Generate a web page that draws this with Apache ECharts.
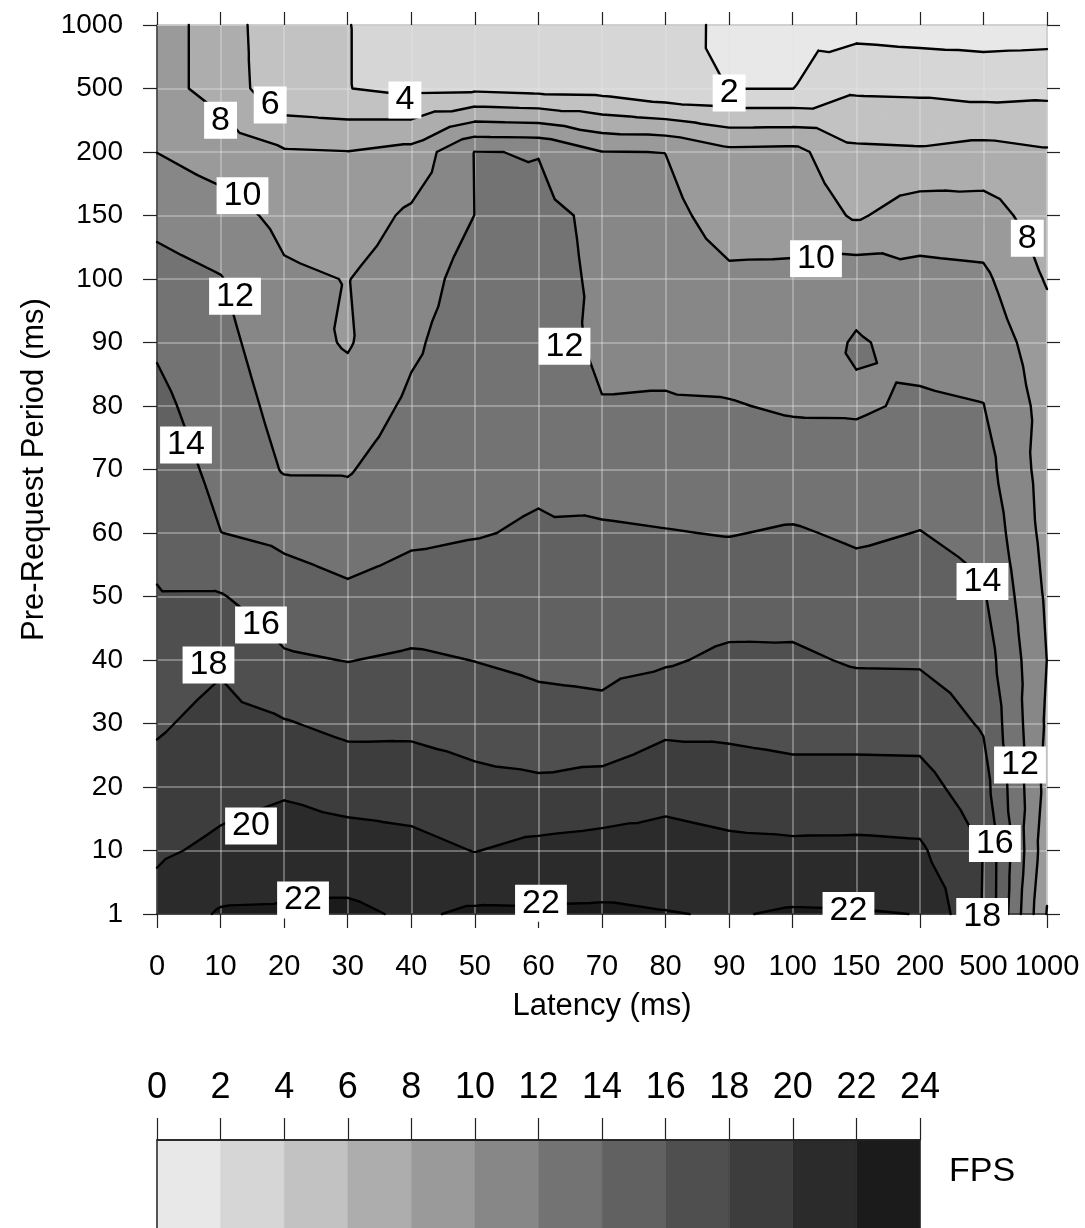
<!DOCTYPE html>
<html>
<head>
<meta charset="utf-8">
<script src="https://cdn.jsdelivr.net/npm/echarts/dist/echarts.min.js"></script>
<style>
html,body{margin:0;padding:0;background:#fff;}
#chart{width:1085px;height:1228px;}
</style>
</head>
<body>
<div id="chart"></div>
<script>
// ---------- data ----------
const latencyLabels = ['0','10','20','30','40','50','60','70','80','90','100','150','200','500','1000'];
const periodLabels  = ['1','10','20','30','40','50','60','70','80','90','100','150','200','500','1000'];

// FPS per pre-request period (rows), one value per latency column
const fps_p1    = [20.75, 22.2, 22.25, 22.39, 21.72, 22.3, 22.25, 22.3, 22.08, 21.87, 22.2, 22.14, 21.97, 17.9, 7.9];
const fps_p10   = [19.72, 20.39, 21.02, 20.86, 20.55, 19.95, 20.49, 20.7, 20.79, 20.47, 20.39, 20.4, 20.28, 17.96, 8.7];
const fps_p20   = [18.71, 19.4, 19.73, 19.22, 19.12, 18.53, 18.36, 18.71, 19.32, 18.96, 18.67, 18.79, 18.75, 16.83, 9.3];
const fps_p30   = [17.76, 18.64, 18.14, 17.52, 17.56, 17.22, 16.73, 16.53, 17.54, 17.55, 17.36, 17.25, 17.21, 15.79, 9.7];
const fps_p40   = [16.94, 17.74, 16.24, 15.95, 16.27, 15.97, 15.62, 15.51, 15.8, 16.34, 16.3, 15.82, 15.79, 15.0, 9.98];
const fps_p50   = [16.11, 16.12, 14.94, 14.36, 14.81, 14.86, 14.9, 14.86, 14.93, 15.13, 15.24, 14.78, 14.92, 14.21, 9.7];
const fps_p60   = [15.53, 14.02, 13.55, 13.06, 13.69, 13.91, 14.17, 14.21, 14.07, 13.93, 14.17, 13.75, 14.04, 13.47, 9.3];
const fps_p70   = [14.98, 13.52, 11.87, 11.86, 13.03, 13.53, 13.73, 13.22, 13.11, 13.01, 12.94, 12.75, 13.14, 12.76, 9.1];
const fps_p80   = [14.44, 13.05, 11.35, 10.85, 12.36, 13.15, 13.37, 12.09, 12.14, 12.1, 11.81, 11.8, 12.23, 12.04, 9.3];
const fps_p90   = [13.79, 12.57, 10.83, 9.83, 11.68, 13.1, 13.01, 11.6, 11.56, 11.2, 11.06, 12.15, 11.5, 11.22, 8.9];
const fps_p100  = [12.71, 12.09, 10.31, 9.95, 11.0, 12.9, 12.65, 11.7, 11.04, 10.3, 10.32, 11.37, 10.53, 10.38, 7.83];
const fps_p150  = [11.49, 10.8, 9.48, 9.0, 10.33, 12.02, 12.5, 11.6, 10.52, 9.26, 9.35, 7.74, 9.08, 8.89, 7.01];
const fps_p200  = [9.98, 9.09, 8.2, 8.05, 8.63, 12.05, 11.94, 10.05, 9.98, 8.5, 8.6, 6.36, 6.24, 6.62, 6.19];
const fps_p500  = [8.6, 7.4, 4.4, 4.04, 3.5, 3.6, 3.3, 3.2, 2.3, 1.98, 1.98, 3.7, 3.62, 3.3, 3.47];
const fps_p1000 = [8.6, 7.4, 4.1, 4.04, 3.3, 3.2, 3.0, 2.9, 2.7, 1.6, 1.5, 1.3, 1.08, 1.04, 1.1];

const fpsGrid = [fps_p1, fps_p10, fps_p20, fps_p30, fps_p40, fps_p50, fps_p60, fps_p70,
                 fps_p80, fps_p90, fps_p100, fps_p150, fps_p200, fps_p500, fps_p1000];

const bandEdges = [0,2,4,6,8,10,12,14,16,18,20,22,24];
const contourLevels = [2,4,6,8,10,12,14,16,18,20,22];
const bandColors = ['#e8e8e8','#d6d6d6','#c2c2c2','#adadad','#9a9a9a','#878787',
                    '#737373','#616161','#4f4f4f','#3d3d3d','#2b2b2b','#1b1b1b'];

// contour label annotations: [latency index, period index, text]
const contourLabelSpots = [
  [9.0, 12.93, '2'], [3.9, 12.82, '4'], [1.78, 12.74, '6'], [1.0, 12.5, '8'],
  [1.345, 11.31, '10'], [1.227, 9.73, '12'], [0.456, 7.386, '14'], [1.636, 4.55, '16'],
  [0.81, 3.92, '18'], [1.479, 1.386, '20'], [2.297, 0.22, '22'],
  [6.41, 8.94, '12'], [6.04, 0.17, '22'], [10.366, 10.32, '10'], [13.69, 10.64, '8'],
  [12.985, 5.236, '14'], [13.575, 2.346, '12'], [13.18, 1.11, '16'], [10.877, 0.055, '22'],
  [12.98, -0.04, '18']
];

// ---------- contouring (triangulated linear interpolation) ----------
function lerp(p, q, L) {
  const t = (L - p[2]) / (q[2] - p[2]);
  return [p[0] + t * (q[0] - p[0]), p[1] + t * (q[1] - p[1]), L];
}
function clip(poly, L, keepAbove) {
  const out = [];
  const n = poly.length;
  for (let k = 0; k < n; k++) {
    const p = poly[k], q = poly[(k + 1) % n];
    const pin = keepAbove ? p[2] >= L : p[2] <= L;
    const qin = keepAbove ? q[2] >= L : q[2] <= L;
    if (pin) out.push(p);
    if (pin !== qin) out.push(lerp(p, q, L));
  }
  return out;
}
const bandPolys = bandColors.map(() => []);
const levelSegs = contourLevels.map(() => []);
const nx = latencyLabels.length, ny = periodLabels.length;
for (let j = 0; j < ny - 1; j++) {
  for (let i = 0; i < nx - 1; i++) {
    const a = [i, j, fpsGrid[j][i]];
    const b = [i + 1, j, fpsGrid[j][i + 1]];
    const c = [i + 1, j + 1, fpsGrid[j + 1][i + 1]];
    const d = [i, j + 1, fpsGrid[j + 1][i]];
    const m = [i + 0.5, j + 0.5, (a[2] + b[2] + c[2] + d[2]) / 4];
    const tris = [[a, b, m], [b, c, m], [c, d, m], [d, a, m]];
    tris.forEach(tri => {
      for (let k = 0; k < bandColors.length; k++) {
        let poly = tri;
        if (k > 0) poly = clip(poly, bandEdges[k], true);
        if (poly.length >= 3 && k < bandColors.length - 1) poly = clip(poly, bandEdges[k + 1], false);
        if (poly.length >= 3) bandPolys[k].push(poly);
      }
      contourLevels.forEach((L, li) => {
        const pts = [];
        for (let e = 0; e < 3; e++) {
          const p = tri[e], q = tri[(e + 1) % 3];
          if ((p[2] >= L) !== (q[2] >= L)) pts.push(lerp(p, q, L));
        }
        if (pts.length === 2) levelSegs[li].push([pts[0], pts[1]]);
      });
    });
  }
}

// ---------- chart ----------
const FONT = "'Liberation Sans', Arial, Helvetica, sans-serif";
const chart = echarts.init(document.getElementById('chart'));

const f = v => v.toFixed(2);

const option = {
  animation: false,
  backgroundColor: '#ffffff',
  grid: [
    { left: 157, right: 38, top: 25, bottom: 314, containLabel: false, outerBoundsMode: 'none' },
    { left: 157, width: 763, top: 1140, height: 120, containLabel: false, outerBoundsMode: 'none' }
  ],
  xAxis: [
    {
      type: 'value', gridIndex: 0, min: 0, max: 14, interval: 1, position: 'bottom', z: 2,
      axisLine: { show: true, onZero: false, lineStyle: { color: '#222', width: 1.5 } },
      axisTick: { show: true, inside: false, length: 14, lineStyle: { color: '#222', width: 1.2 } },
      axisLabel: { margin: 38, fontSize: 29, fontFamily: FONT, color: '#000',
                   showMinLabel: true, showMaxLabel: true, hideOverlap: false,
                   formatter: v => latencyLabels[v] !== undefined ? latencyLabels[v] : '' },
      splitLine: { show: true, lineStyle: { color: 'rgba(230,230,230,0.48)', width: 1.5 } },
      name: 'Latency (ms)', nameLocation: 'middle', nameGap: 77, nameMoveOverlap: false,
      nameTextStyle: { fontSize: 31, fontFamily: FONT, color: '#000' }
    },
    {
      type: 'value', gridIndex: 0, min: 0, max: 14, interval: 1, position: 'top', z: 2,
      axisLine: { show: true, onZero: false, lineStyle: { color: '#c8c8c8', width: 1.5 } },
      axisTick: { show: true, inside: false, length: 13, lineStyle: { color: '#222', width: 1.2 } },
      axisLabel: { show: false }, splitLine: { show: false }
    },
    {
      type: 'value', gridIndex: 1, min: 0, max: 24, interval: 2, position: 'top', z: 2,
      axisLine: { show: true, onZero: false, lineStyle: { color: '#222', width: 1.5 } },
      axisTick: { show: true, inside: false, length: 22, lineStyle: { color: '#222', width: 1.2 } },
      axisLabel: { margin: 34, fontSize: 36, fontFamily: FONT, color: '#000',
                   showMinLabel: true, showMaxLabel: true, hideOverlap: false },
      splitLine: { show: false }
    }
  ],
  yAxis: [
    {
      type: 'value', gridIndex: 0, min: 0, max: 14, interval: 1, position: 'left', z: 2,
      axisLine: { show: true, onZero: false, lineStyle: { color: '#333', width: 1.5 } },
      axisTick: { show: true, inside: false, length: 14, lineStyle: { color: '#222', width: 1.2 } },
      axisLabel: { margin: 34, fontSize: 28, fontFamily: FONT, color: '#000',
                   showMinLabel: true, showMaxLabel: true, hideOverlap: false,
                   formatter: v => periodLabels[v] !== undefined ? periodLabels[v] : '' },
      splitLine: { show: true, lineStyle: { color: 'rgba(230,230,230,0.48)', width: 1.5 } },
      name: 'Pre-Request Period (ms)', nameLocation: 'middle', nameRotate: 90, nameGap: 107,
      nameMoveOverlap: false,
      nameTextStyle: { fontSize: 31, fontFamily: FONT, color: '#000' }
    },
    {
      type: 'value', gridIndex: 0, min: 0, max: 14, interval: 1, position: 'right', z: 2,
      axisLine: { show: true, onZero: false, lineStyle: { color: '#c8c8c8', width: 1.5 } },
      axisTick: { show: true, inside: false, length: 13, lineStyle: { color: '#222', width: 1.2 } },
      axisLabel: { show: false }, splitLine: { show: false }
    },
    {
      type: 'value', gridIndex: 1, min: 0, max: 1, show: false
    }
  ],
  graphic: [
    { type: 'text', left: 949, top: 1155, style: { text: 'FPS', fontSize: 34, fontFamily: FONT, fill: '#000' } }
  ],
  series: [
    {
      // filled contour bands: one compound path per band
      type: 'custom', name: 'fill', xAxisIndex: 0, yAxisIndex: 0, z: 1, silent: true,
      data: bandColors.map((c, k) => [0, 0, k]),
      encode: { x: 0, y: 1 },
      renderItem: (params, api) => {
        const k = api.value(2);
        let d = '';
        bandPolys[k].forEach(poly => {
          poly.forEach((p, n) => {
            const c = api.coord([p[0], p[1]]);
            d += (n === 0 ? 'M' : 'L') + f(c[0]) + ' ' + f(c[1]);
          });
          d += 'Z';
        });
        if (!d) return null;
        return { type: 'path', shape: { pathData: d },
                 style: { fill: bandColors[k], stroke: bandColors[k], lineWidth: 0.6 } };
      }
    },
    {
      // contour lines: one path per level
      type: 'custom', name: 'contours', xAxisIndex: 0, yAxisIndex: 0, z: 3, silent: true,
      data: contourLevels.map((L, li) => [0, 0, li]),
      encode: { x: 0, y: 1 },
      renderItem: (params, api) => {
        const li = api.value(2);
        let d = '';
        levelSegs[li].forEach(s => {
          const a = api.coord([s[0][0], s[0][1]]);
          const b = api.coord([s[1][0], s[1][1]]);
          d += 'M' + f(a[0]) + ' ' + f(a[1]) + 'L' + f(b[0]) + ' ' + f(b[1]);
        });
        if (!d) return null;
        return { type: 'path', shape: { pathData: d },
                 style: { fill: 'none', stroke: '#000', lineWidth: 2.4, lineCap: 'round', lineJoin: 'round' } };
      }
    },
    {
      // contour labels in white boxes
      type: 'custom', name: 'labels', xAxisIndex: 0, yAxisIndex: 0, z: 4, silent: true,
      data: contourLabelSpots.map(s => [s[0], s[1]]),
      encode: { x: 0, y: 1 },
      renderItem: (params, api) => {
        const c = api.coord([api.value(0), api.value(1)]);
        return {
          type: 'text', x: c[0], y: c[1],
          style: {
            text: contourLabelSpots[params.dataIndex][2],
            fontSize: 34, fontFamily: FONT, fill: '#000',
            align: 'center', verticalAlign: 'middle', lineHeight: 35,
            backgroundColor: '#ffffff', padding: [1, 7, 1, 7]
          }
        };
      }
    },
    {
      type: 'custom', name: 'colorbar', xAxisIndex: 2, yAxisIndex: 2, z: 1, silent: true,
      data: bandColors.map((c, k) => [bandEdges[k], bandEdges[k + 1], k]),
      encode: { x: [0, 1] },
      renderItem: (params, api) => {
        const a = api.coord([api.value(0), 1]);
        const b = api.coord([api.value(1), 0]);
        const col = bandColors[api.value(2)];
        return { type: 'rect', shape: { x: a[0], y: a[1], width: b[0] - a[0], height: b[1] - a[1] },
                 style: { fill: col, stroke: col, lineWidth: 0.5 } };
      }
    },
    {
      type: 'custom', name: 'colorbarFrame', xAxisIndex: 2, yAxisIndex: 2, z: 2, silent: true,
      data: [[bandEdges[0], bandEdges[bandEdges.length - 1]]],
      encode: { x: [0, 1] },
      renderItem: (params, api) => {
        const a = api.coord([api.value(0), 1]);
        const b = api.coord([api.value(1), 0]);
        return { type: 'rect', shape: { x: a[0], y: a[1], width: b[0] - a[0], height: b[1] - a[1] },
                 style: { fill: 'none', stroke: '#222', lineWidth: 1.5 } };
      }
    }
  ]
};
chart.setOption(option);
</script>
</body>
</html>
